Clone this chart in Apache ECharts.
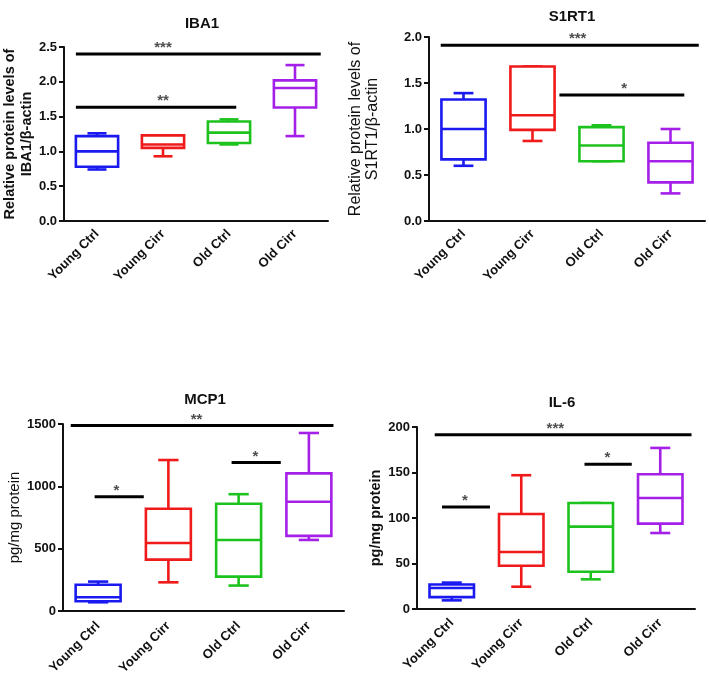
<!DOCTYPE html>
<html>
<head>
<meta charset="utf-8">
<script src="https://cdn.jsdelivr.net/npm/echarts@6/dist/echarts.min.js"></script>
<style>html,body{margin:0;padding:0;background:#fff;}#c{width:709px;height:681px;}</style>
</head>
<body>
<div id="c"></div>
<script>
const categories = ['Young Ctrl', 'Young Cirr', 'Old Ctrl', 'Old Cirr'];
const colors = ['#1a1af0', '#f01a1a', '#1ec21e', '#a420e8'];

// [min, q1, median, q3, max] per category
const iba1Stats = [[0.74, 0.78, 1.00, 1.22, 1.26], [0.93, 1.05, 1.10, 1.23, 1.23], [1.10, 1.12, 1.27, 1.43, 1.46], [1.22, 1.63, 1.91, 2.02, 2.24]];
const s1rt1Stats = [[0.60, 0.67, 1.00, 1.32, 1.39], [0.87, 0.99, 1.15, 1.68, 1.68], [0.65, 0.65, 0.82, 1.02, 1.04], [0.30, 0.42, 0.65, 0.85, 1.00]];
const mcp1Stats = [[70, 78, 110, 210, 236], [230, 412, 546, 820, 1211], [204, 276, 570, 860, 937], [570, 603, 876, 1104, 1428]];
const il6Stats = [[9.5, 13, 23, 27, 29], [24.5, 47.6, 62.6, 104.4, 147], [32.6, 41, 90.5, 116.5, 116.5], [83.5, 93.8, 122, 148, 177]];

// significance bars: [xStart, xEnd, y, stars, starX] (x in category units)
const iba1Sig = [[-0.32, 3.39, 2.40, '***', 1.0], [-0.32, 2.11, 1.635, '**', 1.0]];
const s1rt1Sig = [[-0.33, 3.41, 1.91, '***', 1.655], [1.39, 3.20, 1.37, '*', 2.33]];
const mcp1Sig = [[-0.39, 3.35, 1487, '**', 1.40], [-0.05, 0.65, 916, '*', 0.26], [1.90, 2.60, 1192, '*', 2.24]];
const il6Sig = [[-0.245, 3.45, 191.6, '***', 1.49], [-0.14, 0.55, 112, '*', 0.19], [1.91, 2.59, 159, '*', 2.24]];

const panels = [
  {title: 'IBA1', stats: iba1Stats, sig: iba1Sig, max: 2.5, interval: 0.5, dec: 1,
   yName: 'Relative protein levels of\nIBA1/β-actin', yBold: 'bold', yFont: 14.5, nameGap: 29,
   grid: {left: 64, top: 47, width: 264, height: 174}, titlePos: {x: 197, y: 11}, tickFont: 13, labelMargin: 11},
  {title: 'S1RT1', stats: s1rt1Stats, sig: s1rt1Sig, max: 2.0, interval: 0.5, dec: 1,
   yName: 'Relative protein levels of\nS1RT1/β-actin', yBold: 'normal', yFont: 16, nameGap: 48,
   grid: {left: 429, top: 37, width: 276, height: 184}, titlePos: {x: 567, y: 4}, tickFont: 13, labelMargin: 11},
  {title: 'MCP1', stats: mcp1Stats, sig: mcp1Sig, max: 1500, interval: 500, dec: 0,
   yName: 'pg/mg protein', yBold: 'normal', yFont: 15, nameGap: 40,
   grid: {left: 63, top: 424, width: 281, height: 187}, titlePos: {x: 200, y: 387}, tickFont: 13, labelMargin: 13},
  {title: 'IL-6', stats: il6Stats, sig: il6Sig, max: 200, interval: 50, dec: 0,
   yName: 'pg/mg protein', yBold: 'bold', yFont: 14.5, nameGap: 30,
   grid: {left: 417, top: 427, width: 278, height: 182}, titlePos: {x: 557, y: 390}, tickFont: 13, labelMargin: 12}
];

const FONT = '"Liberation Sans", Arial, sans-serif';
const option = {animation: false, backgroundColor: '#fff', title: [], grid: [], xAxis: [], yAxis: [], series: []};

panels.forEach((p, i) => {
  option.title.push({text: p.title, left: p.titlePos.x, top: p.titlePos.y, textAlign: 'center',
    textStyle: {fontFamily: FONT, fontWeight: 'bold', fontSize: 15, color: '#111'}});
  option.grid.push(Object.assign({containLabel: false}, p.grid));
  option.xAxis.push({type: 'category', gridIndex: i, data: categories, boundaryGap: true,
    axisLine: {onZero: false, lineStyle: {color: '#111', width: 2}},
    axisTick: {alignWithLabel: true, length: 5, lineStyle: {color: '#111', width: 2}},
    axisLabel: {rotate: 45, margin: p.labelMargin, fontFamily: FONT, fontWeight: 'bold', fontSize: 13, color: '#111'},
    splitLine: {show: false}});
  option.xAxis.push({type: 'value', gridIndex: i, min: -0.5, max: 3.5, show: false});
  option.yAxis.push({type: 'value', gridIndex: i, min: 0, max: p.max, interval: p.interval,
    name: p.yName, nameLocation: 'middle', nameRotate: 90, nameGap: p.nameGap,
    nameTextStyle: {fontFamily: FONT, fontWeight: p.yBold, fontSize: p.yFont, color: '#111', lineHeight: 17},
    axisLine: {show: true, onZero: false, lineStyle: {color: '#111', width: 2}},
    axisTick: {show: true, length: 5, lineStyle: {color: '#111', width: 2}},
    axisLabel: {margin: 7, fontFamily: FONT, fontWeight: 'bold', fontSize: p.tickFont, color: '#111',
      formatter: v => v.toFixed(p.dec)},
    splitLine: {show: false}});

  const boxData = p.stats.map((s, k) => [k].concat(s));
  option.series.push({
    type: 'custom', xAxisIndex: 2 * i, yAxisIndex: i, data: boxData,
    renderItem: function (params, api) {
      const k = api.value(0);
      const mn = api.value(1), q1 = api.value(2), md = api.value(3), q3 = api.value(4), mx = api.value(5);
      const bw = api.size([1, 0])[0] * 0.64;
      const cw = bw * 0.45;
      const pMn = api.coord([k, mn]), pQ1 = api.coord([k, q1]), pMd = api.coord([k, md]),
            pQ3 = api.coord([k, q3]), pMx = api.coord([k, mx]);
      const cx = pMd[0];
      const st = {stroke: colors[k], lineWidth: 2.6, fill: null};
      return {type: 'group', children: [
        {type: 'line', shape: {x1: cx, y1: pQ3[1], x2: cx, y2: pMx[1]}, style: st},
        {type: 'line', shape: {x1: cx, y1: pQ1[1], x2: cx, y2: pMn[1]}, style: st},
        {type: 'line', shape: {x1: cx - cw / 2, y1: pMx[1], x2: cx + cw / 2, y2: pMx[1]}, style: st},
        {type: 'line', shape: {x1: cx - cw / 2, y1: pMn[1], x2: cx + cw / 2, y2: pMn[1]}, style: st},
        {type: 'rect', shape: {x: cx - bw / 2, y: pQ3[1], width: bw, height: pQ1[1] - pQ3[1]}, style: {stroke: colors[k], lineWidth: 2.6, fill: '#fff'}},
        {type: 'line', shape: {x1: cx - bw / 2, y1: pMd[1], x2: cx + bw / 2, y2: pMd[1]}, style: st}
      ]};
    }
  });

  p.sig.forEach(sg => {
    option.series.push({type: 'line', xAxisIndex: 2 * i + 1, yAxisIndex: i,
      data: [[sg[0], sg[2]], [sg[1], sg[2]]], symbol: 'none',
      lineStyle: {color: '#000', width: 3}, silent: true});
    option.series.push({type: 'scatter', xAxisIndex: 2 * i + 1, yAxisIndex: i,
      data: [[sg[4], sg[2]]], symbolSize: 0, silent: true,
      label: {show: true, position: 'inside', offset: [0, -6], formatter: sg[3],
        fontFamily: FONT, fontSize: 15, fontWeight: 'bold', color: '#222'}});
  });
});

const chart = echarts.init(document.getElementById('c'), null, {renderer: 'canvas'});
chart.setOption(option);
</script>
</body>
</html>
